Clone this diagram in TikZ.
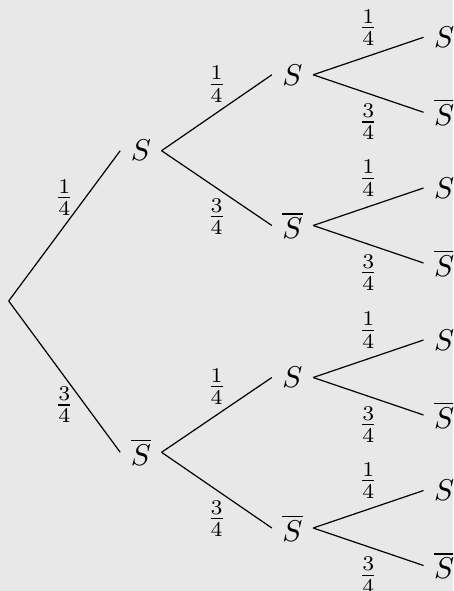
\documentclass[tikz,border=0pt]{standalone}
\definecolor{bgc}{RGB}{232,232,232}
\begin{document}
\begin{tikzpicture}[x=0.3333pt,y=-0.3333pt,
  ev/.style={inner sep=3.333pt},
  br/.style={draw=black,line width=0.4pt}]
\fill[bgc] (0,0) rectangle (453,591);
\clip (0,0) rectangle (453,591);
% root
\coordinate (r) at (8.7,301);
% level 1
\node[ev] (a) at (140.9,150.7) {$S$};
\node[ev] (b) at (140.9,452.3) {$\overline{S}$};
% level 2
\node[ev] (aa) at (292.5,74.8) {$S$};
\node[ev] (ab) at (292.5,225.5) {$\overline{S}$};
\node[ev] (ba) at (292.5,377.5) {$S$};
\node[ev] (bb) at (292.5,528) {$\overline{S}$};
% level 3
\node[ev] (aaa) at (444.2,37.3) {$S$};
\node[ev] (aab) at (444.2,112.3) {$\overline{S}$};
\node[ev] (aba) at (444.2,188) {$S$};
\node[ev] (abb) at (444.2,263) {$\overline{S}$};
\node[ev] (baa) at (444.2,340) {$S$};
\node[ev] (bab) at (444.2,415) {$\overline{S}$};
\node[ev] (bba) at (444.2,490.5) {$S$};
\node[ev] (bbb) at (444.2,565.5) {$\overline{S}$};
% branches
\draw[br] (r) -- node[above] {$\frac{1}{4}$} (a.west);
\draw[br] (r) -- node[below] {$\frac{3}{4}$} (b.west);
\draw[br] (a.east) -- node[above] {$\frac{1}{4}$} (aa.west);
\draw[br] (a.east) -- node[below] {$\frac{3}{4}$} (ab.west);
\draw[br] (b.east) -- node[above] {$\frac{1}{4}$} (ba.west);
\draw[br] (b.east) -- node[below] {$\frac{3}{4}$} (bb.west);
\draw[br] (aa.east) -- node[above] {$\frac{1}{4}$} (aaa.west);
\draw[br] (aa.east) -- node[below] {$\frac{3}{4}$} (aab.west);
\draw[br] (ab.east) -- node[above] {$\frac{1}{4}$} (aba.west);
\draw[br] (ab.east) -- node[below] {$\frac{3}{4}$} (abb.west);
\draw[br] (ba.east) -- node[above] {$\frac{1}{4}$} (baa.west);
\draw[br] (ba.east) -- node[below] {$\frac{3}{4}$} (bab.west);
\draw[br] (bb.east) -- node[above] {$\frac{1}{4}$} (bba.west);
\draw[br] (bb.east) -- node[below] {$\frac{3}{4}$} (bbb.west);
\end{tikzpicture}
\end{document}
